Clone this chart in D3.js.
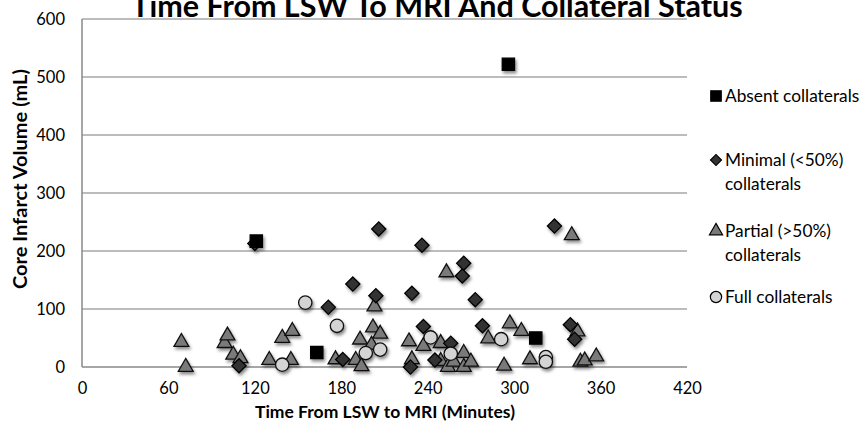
<!DOCTYPE html>
<html><head><meta charset="utf-8">
<script src="https://cdn.jsdelivr.net/npm/d3@7/dist/d3.min.js"></script>
<style>body{margin:0;background:#fff}svg{display:block}text{font-family:Lato,"Open Sans",sans-serif}</style>
</head><body><svg id="c" width="862" height="422"></svg>
<script>
const xTicks=[0,60,120,180,240,300,360,420];
const yTicks=[0,100,200,300,400,500,600];
const absent=[[121,217],[163,25],[296,522],[315,50]];
const minimal=[[120,213],[109,2],[171,103],[181,13],[188,143],[204,123],[206,238],[228,0],[229,127],[236,210],[237,70],[245,12],[256,41],[264,157],[265,179],[273,116],[278,71],[328,243],[339,73],[342,48]];
const partial=[[69,43],[72,0],[99,41],[101,54],[105,21],[110,15],[130,12],[139,50],[145,12],[146,62],[176,13],[190,12],[193,47],[194,1],[201,38],[202,68],[203,104],[207,57],[227,44],[229,13],[237,36],[249,41],[249,10],[253,163],[254,0],[258,9],[265,24],[265,0],[270,9],[282,49],[293,2],[297,75],[305,62],[311,13],[340,227],[344,61],[346,9],[349,11],[357,18]];
const full=[[139,4],[155,111],[177,71],[197,24],[207,30],[242,51],[256,23],[291,48],[322,17],[322,9]];

const svg=d3.select("#c");
const x=d3.scaleLinear().domain([0,420]).range([82,687]);
const y=d3.scaleLinear().domain([0,600]).range([367,19]);
const FF="Lato,'Open Sans',sans-serif";

const defs=svg.append("defs");
const f=defs.append("filter").attr("id","sh").attr("x","-50%").attr("y","-50%").attr("width","200%").attr("height","200%");
f.append("feDropShadow").attr("dx",1.5).attr("dy",2.5).attr("stdDeviation",1.5).attr("flood-color","#000").attr("flood-opacity",0.45);

svg.append("g").selectAll("line").data(yTicks.filter(d=>d>0)).join("line")
 .attr("x1",x(0)).attr("x2",x(420)).attr("y1",d=>y(d)).attr("y2",d=>y(d))
 .attr("stroke","#a6a6a6").attr("stroke-width",1.5);
svg.append("line").attr("x1",x(0)).attr("x2",x(420)).attr("y1",y(0)).attr("y2",y(0)).attr("stroke","#888").attr("stroke-width",1.5);
svg.append("line").attr("x1",x(0)).attr("x2",x(0)).attr("y1",y(0)).attr("y2",y(600)).attr("stroke","#888").attr("stroke-width",1.5);

const ax=svg.append("g").attr("transform",`translate(0,${y(0)})`).call(d3.axisBottom(x).tickValues(xTicks).tickSize(0).tickPadding(15));
ax.select(".domain").remove();
ax.selectAll("text").attr("font-size",16.5).attr("fill","#000").style("font-family",FF);
const ay=svg.append("g").attr("transform",`translate(${x(0)},0)`).call(d3.axisLeft(y).tickValues(yTicks).tickSize(0).tickPadding(17));
ay.select(".domain").remove();
ay.selectAll("text").attr("font-size",16.5).attr("fill","#000").style("font-family",FF);

svg.append("text").attr("x",437).attr("y",17).attr("text-anchor","middle").attr("font-size",30.5).attr("font-weight","bold").text("Time From LSW To MRI And Collateral Status");
svg.append("text").attr("x",385).attr("y",418).attr("text-anchor","middle").attr("font-size",17.5).attr("font-weight","bold").text("Time From LSW to MRI (Minutes)");
svg.append("text").attr("transform","translate(27,179) rotate(-90)").attr("text-anchor","middle").attr("font-size",18.5).attr("font-weight","bold")
 .attr("textLength",220).attr("lengthAdjust","spacingAndGlyphs").text("Core Infarct Volume (mL)");

const sym={sq:d3.symbol().type(d3.symbolSquare).size(150),
 di:d3.symbol().type(d3.symbolSquare).size(100),
 tr:d3.symbol().type(d3.symbolTriangle).size(95),
 ci:d3.symbol().type(d3.symbolCircle).size(140)};
const g=svg.append("g").attr("filter","url(#sh)");
function plot(data,s,fill,stroke,rot){
 g.append("g").selectAll("path").data(data).join("path")
  .attr("d",s).attr("transform",d=>`translate(${x(d[0])},${y(d[1])}) rotate(${rot||0})`)
  .attr("fill",fill).attr("stroke",stroke).attr("stroke-width",1.3);
}
plot(partial,sym.tr,"#7a7a7a","#111");
plot(minimal,sym.di,"#333","#000",45);
plot(full,sym.ci,"#d4d4d4","#111");
plot(absent,sym.sq,"#000","#000");

const leg=[
 {y:96,s:d3.symbol().type(d3.symbolSquare).size(110),fill:"#000",rot:0,lines:["Absent collaterals"]},
 {y:160,s:d3.symbol().type(d3.symbolSquare).size(60),fill:"#333",rot:45,lines:["Minimal (<50%)","collaterals"]},
 {y:231,s:d3.symbol().type(d3.symbolTriangle).size(75),fill:"#7a7a7a",rot:0,lines:["Partial (>50%)","collaterals"]},
 {y:297,s:d3.symbol().type(d3.symbolCircle).size(100),fill:"#d4d4d4",rot:0,lines:["Full collaterals"]}
];
const lg=svg.append("g");
leg.forEach(l=>{
 lg.append("path").attr("d",l.s).attr("transform",`translate(716,${l.y}) rotate(${l.rot})`).attr("fill",l.fill).attr("stroke","#000").attr("stroke-width",1.2);
 l.lines.forEach((t,i)=>lg.append("text").attr("x",725).attr("y",l.y+6+i*24).attr("font-size",17.3).text(t));
});
</script></body></html>
